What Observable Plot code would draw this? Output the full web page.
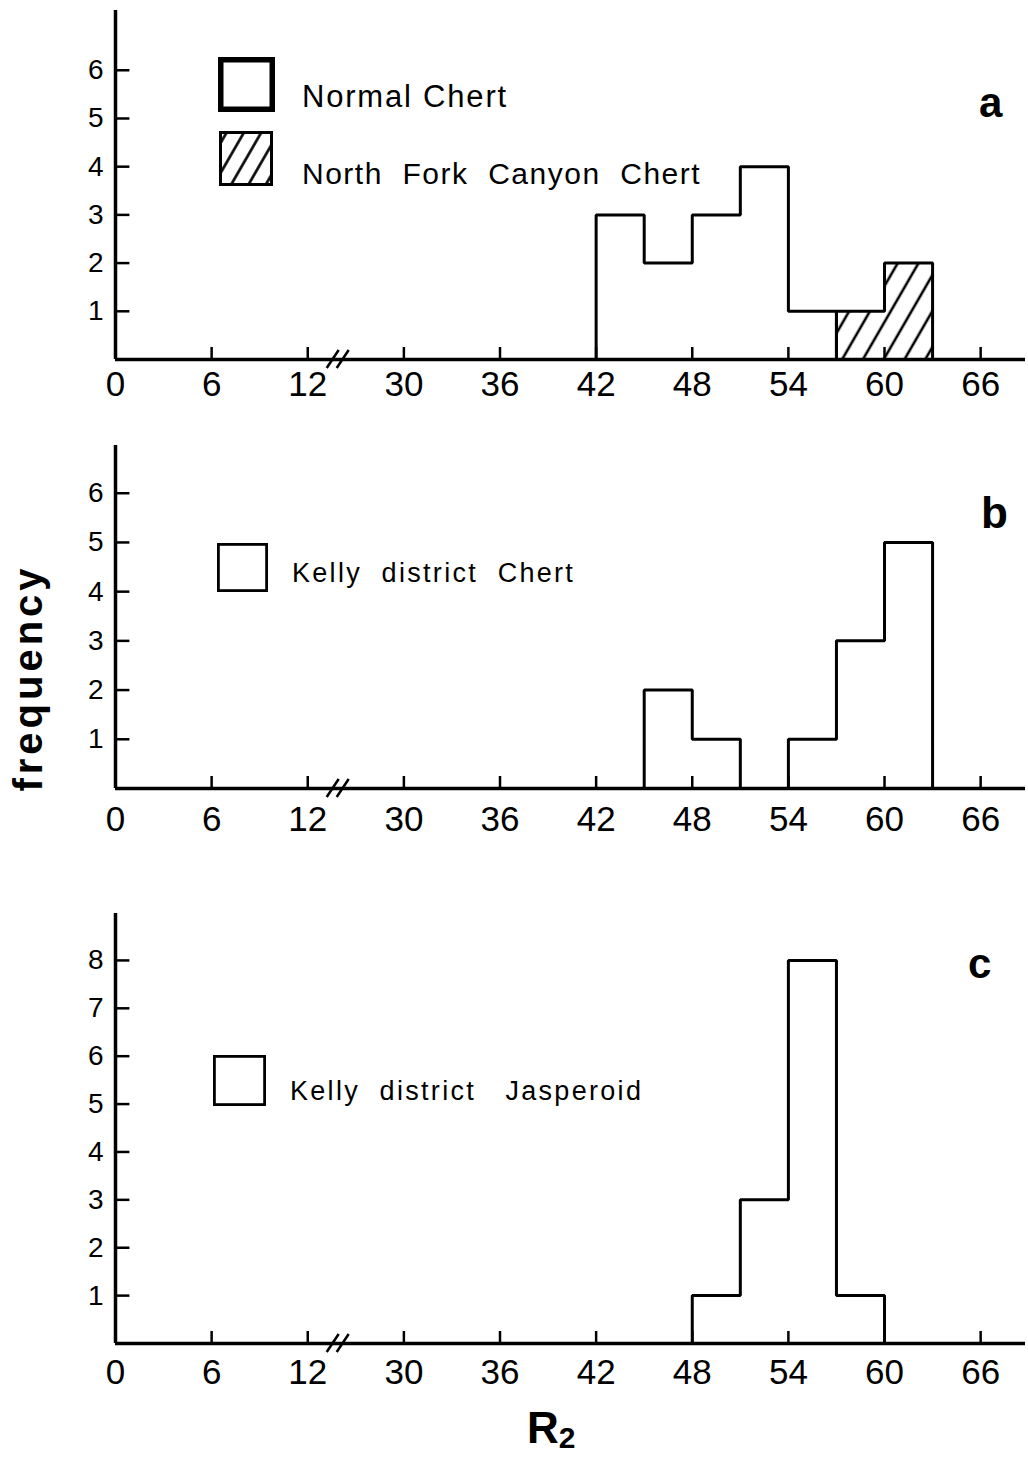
<!DOCTYPE html>
<html><head><meta charset="utf-8">
<script src="https://cdn.jsdelivr.net/npm/d3@7"></script>
<script src="https://cdn.jsdelivr.net/npm/@observablehq/plot@0.6"></script>
<style>
body{margin:0;background:#fff;}
#wrap{position:relative;width:1028px;height:1457px;overflow:hidden;background:#fff;}
#wrap > svg{position:absolute;left:0;}
</style></head><body><div id="wrap"></div>
<script>
// ---- data ----
const xTickValues = [0, 6, 12, 30, 36, 42, 48, 54, 60, 66];
const binWidth = 3;
const normalChertStarts = [42, 45, 48, 51, 54];
const normalChertCounts = [3, 2, 3, 4, 1];
const northForkStarts = [57, 60];
const northForkCounts = [1, 2];
const kellyChertStarts = [45, 48, 51, 54, 57, 60];
const kellyChertCounts = [2, 1, 0, 1, 3, 5];
const jasperoidStarts = [48, 51, 54, 57];
const jasperoidCounts = [1, 3, 8, 1];
const yTicksAB = [1, 2, 3, 4, 5, 6];
const yTicksC = [1, 2, 3, 4, 5, 6, 7, 8];
const panelLetters = ["a", "b", "c"];
const legendLabels = {
  normal: "Normal Chert",
  northFork: "North  Fork  Canyon  Chert",
  kellyChert: "Kelly  district  Chert",
  jasperoid: "Kelly  district   Jasperoid"
};
const yTitle = "frequency";

// broken axis: values above 12 are shifted so that 30 sits one tick step after 12
const pos = v => (v <= 12 ? v : v - 12);
const breakPos = 13.9; // where the "//" break sign sits, in axis position units

function outline(starts, counts) {
  const pts = [{x: starts[0], y: 0}];
  starts.forEach((s, i) => { pts.push({x: s, y: counts[i]}); pts.push({x: s + binWidth, y: counts[i]}); });
  pts.push({x: starts[starts.length - 1] + binWidth, y: 0});
  return pts;
}

const wrap = document.getElementById("wrap");
const FONT = "Liberation Sans, Arial, sans-serif";

function panel({top, height, marginTop, marginBottom, yMax, yTicks, series, hatched, labelDy}) {
  const pxPerUnit = (height - marginTop - marginBottom) / yMax;
  const marks = [];
  if (hatched) {
    marks.push(Plot.rectY(hatched.starts.map((s, i) => ({s, c: hatched.counts[i]})), {
      x1: d => pos(d.s), x2: d => pos(d.s + binWidth), y: "c", fill: "url(#hatch)", stroke: "none"
    }));
  }
  marks.push(
    Plot.ruleY([0], {stroke: "black", strokeWidth: 3.5}),
    Plot.ruleX([0], {stroke: "black", strokeWidth: 3.5}),
    Plot.ruleX(xTickValues.slice(1), {x: pos, y1: 0, y2: 12 / pxPerUnit, stroke: "black", strokeWidth: 2.5}),
    Plot.ruleY(yTicks, {y: d => d, x1: 0, x2: 0.9, stroke: "black", strokeWidth: 2.5}),
    Plot.text(xTickValues, {x: pos, y: 0, text: d => String(d), dy: labelDy, fontSize: 35, fill: "black"}),
    Plot.text(yTicks, {x: 0, y: d => d, text: d => String(d), dx: -12, textAnchor: "end", fontSize: 28, fill: "black"})
  );
  for (const sr of series) {
    marks.push(Plot.line(outline(sr.starts, sr.counts), {
      x: d => pos(d.x), y: "y", stroke: "black", strokeWidth: 3, strokeLinejoin: "miter"
    }));
  }
  const p = Plot.plot({
    width: 1028, height, marginLeft: 115, marginRight: 3, marginTop, marginBottom,
    style: {fontFamily: FONT, color: "black", background: "transparent", overflow: "visible"},
    x: {domain: [0, 56.8], axis: null},
    y: {domain: [0, yMax], axis: null},
    marks
  });
  p.style.top = top + "px";
  const svg = d3.select(p);
  svg.insert("defs", ":first-child").html(
    `<pattern id="hatch" patternUnits="userSpaceOnUse" width="18" height="18" patternTransform="rotate(30)">
       <line x1="9" y1="-2" x2="9" y2="20" stroke="black" stroke-width="2.6"/></pattern>`);
  // break marks "//" on the x axis, placed with the plot's own scales
  const xs = p.scale("x"), ys = p.scale("y");
  const bx = xs.apply(breakPos), by = ys.apply(0);
  for (const off of [-5, 5]) {
    svg.append("line").attr("x1", bx + off - 6).attr("y1", by + 9).attr("x2", bx + off + 6).attr("y2", by - 9)
      .attr("stroke", "black").attr("stroke-width", 2.5);
  }
  wrap.appendChild(p);
  return p;
}

panel({top: 0, height: 409, marginTop: 10, marginBottom: 50, yMax: 7.24, yTicks: yTicksAB,
  series: [{starts: normalChertStarts, counts: normalChertCounts}, {starts: northForkStarts, counts: northForkCounts}],
  hatched: {starts: northForkStarts, counts: northForkCounts}, labelDy: 25});
panel({top: 430, height: 408, marginTop: 15, marginBottom: 50, yMax: 6.97, yTicks: yTicksAB,
  series: [{starts: kellyChertStarts, counts: kellyChertCounts}], labelDy: 31});
panel({top: 895, height: 503, marginTop: 18, marginBottom: 55, yMax: 8.98, yTicks: yTicksC,
  series: [{starts: jasperoidStarts, counts: jasperoidCounts}], labelDy: 29});

// ---- annotation overlay: legends, panel letters, axis titles ----
const ov = d3.select(wrap).append("svg").attr("width", 1028).attr("height", 1457)
  .style("top", "0px").style("font-family", FONT);
ov.append("defs").html(
  `<pattern id="hatch2" patternUnits="userSpaceOnUse" width="15" height="15" patternTransform="rotate(30)">
     <line x1="7.5" y1="-2" x2="7.5" y2="17" stroke="black" stroke-width="2.6"/></pattern>`);
function box(x, y, w, h, sw, fill) {
  ov.append("rect").attr("x", x + sw / 2).attr("y", y + sw / 2).attr("width", w - sw).attr("height", h - sw)
    .attr("fill", fill).attr("stroke", "black").attr("stroke-width", sw);
}
function label(x, y, t, size, ls, weight) {
  ov.append("text").attr("x", x).attr("y", y).attr("font-size", size).attr("letter-spacing", ls)
    .attr("font-weight", weight || "normal").style("white-space", "pre").text(t);
}
box(218, 57, 57, 55, 5.5, "white");
box(219, 131, 54, 55, 3, "url(#hatch2)");
label(302, 107, legendLabels.normal, 31, 1.8);
label(302, 184, legendLabels.northFork, 30, 1.5);
box(217, 543, 51, 49, 2.8, "white");
label(292, 582, legendLabels.kellyChert, 27, 2.3);
box(213, 1055, 53, 51, 2.8, "white");
label(290, 1100, legendLabels.jasperoid, 27, 2.3);

label(979, 117, panelLetters[0], 42, 0, "bold");
label(981, 528, panelLetters[1], 44, 0, "bold");
label(968, 978, panelLetters[2], 42, 0, "bold");

ov.append("text").attr("transform", "translate(42,678) rotate(-90)").attr("text-anchor", "middle")
  .attr("font-size", 40).attr("font-weight", "bold").attr("letter-spacing", 4).text(yTitle);
const r2 = ov.append("text").attr("x", 527).attr("y", 1443).attr("font-size", 44).attr("font-weight", "bold");
r2.append("tspan").text("R");
r2.append("tspan").attr("font-size", 30).attr("dy", 5).text("2");
</script></body></html>
